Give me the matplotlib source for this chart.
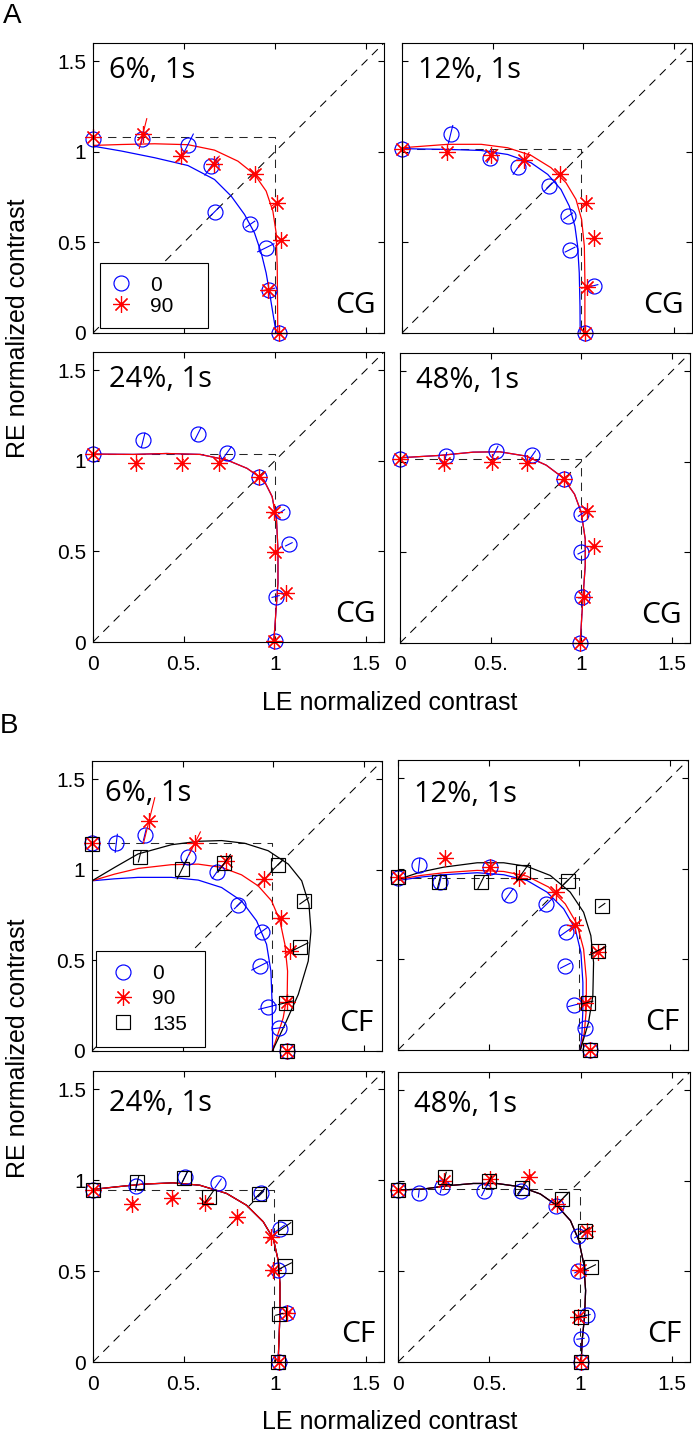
import matplotlib.pyplot as plt
from matplotlib.lines import Line2D
from matplotlib.patches import Rectangle
import numpy as np

W, H = 693, 1434
plt.rcParams["font.family"] = ["Liberation Sans", "DejaVu Sans"]

ticks = [0, 0.5, 1, 1.5]
xticklabels = ["0", "0.5.", "1", "1.5"]
yticklabels = ["0", "0.5", "1", "1.5"]

# ---------------- data: (LE, RE, radial error) per orientation ----------------
# A, 6%
a06_o = [(0, 1.07, 0), (0.27, 1.07, 0.03), (0.52, 1.035, 0.07), (0.65, 0.92, 0.06), (0.67, 0.67, 0.03),
         (0.865, 0.60, 0.03), (0.95, 0.47, 0.05), (0.97, 0.24, 0.03), (1.02, 0.0, 0)]
a06_s = [(0, 1.08, 0), (0.275, 1.10, 0.085), (0.485, 0.976, 0.03), (0.665, 0.935, 0.05), (0.89, 0.88, 0.03),
         (1.01, 0.72, 0.03), (1.035, 0.515, 0.03), (0.96, 0.24, 0.03), (1.02, 0, 0)]
a06_fit_o = [(0, 1.031), (0.156, 1.004), (0.339, 0.967), (0.522, 0.924), (0.668, 0.847), (0.760, 0.755),
             (0.833, 0.654), (0.888, 0.552), (0.925, 0.442), (0.952, 0.331), (0.971, 0.221), (0.989, 0.110),
             (1.007, 0)]
a06_fit_s = [(0, 1.035), (0.156, 1.04), (0.339, 1.044), (0.522, 1.039), (0.668, 1.009), (0.797, 0.948),
             (0.888, 0.875), (0.952, 0.783), (0.989, 0.672), (1.007, 0.552), (1.013, 0.368), (1.016, 0)]
a06_corner = (1.0, 1.08)

# A, 12%
a12_o = [(0, 1.013, 0), (0.268, 1.096, 0.05), (0.483, 0.967, 0.03), (0.642, 0.917, 0.05), (0.813, 0.81, 0.04),
         (0.917, 0.645, 0.03), (0.927, 0.46, 0.03), (1.061, 0.262, 0.02), (1.009, 0, 0)]
a12_s = [(0, 1.013, 0), (0.25, 0.998, 0.02), (0.492, 0.98, 0.03), (0.672, 0.954, 0.05), (0.873, 0.875, 0.03),
         (1.015, 0.718, 0.03), (1.057, 0.525, 0.02), (1.02, 0.254, 0.03), (1.009, 0, 0)]
a12_fit_o = [(0, 1.017), (0.253, 1.013), (0.437, 1.007), (0.583, 0.985), (0.712, 0.939), (0.804, 0.875),
             (0.877, 0.792), (0.923, 0.7), (0.954, 0.589), (0.969, 0.479), (0.978, 0.331), (0.982, 0.147),
             (0.983, 0)]
a12_fit_s = [(0, 1.022), (0.253, 1.041), (0.437, 1.041), (0.583, 1.022), (0.712, 0.98), (0.822, 0.912),
             (0.905, 0.829), (0.96, 0.737), (0.991, 0.626), (1.006, 0.479), (1.009, 0.295), (1.009, 0)]
a12_corner = (0.99, 1.015)

# A, 24%
a24_o = [(0, 1.037, 0), (0.276, 1.114, 0.04), (0.576, 1.147, 0.04), (0.737, 1.044, 0.04), (0.915, 0.912, 0.02),
         (1.037, 0.719, 0.02), (1.077, 0.539, 0.02), (1.004, 0.251, 0.02), (0.998, 0.004, 0)]
a24_s = [(0, 1.04, 0), (0.239, 0.985, 0.02), (0.488, 0.989, 0.02), (0.691, 0.985, 0.02), (0.912, 0.912, 0.02),
         (0.994, 0.719, 0.02), (0.998, 0.499, 0.02), (1.059, 0.27, 0.02), (0.994, 0.004, 0)]
a24_fit = [(0, 1.037), (0.221, 1.035), (0.405, 1.04), (0.589, 1.035), (0.737, 1.004), (0.847, 0.958),
           (0.939, 0.894), (0.985, 0.802), (1.009, 0.673), (1.017, 0.508), (1.017, 0.325), (1.004, 0.141),
           (0.994, 0.004)]
a24_corner = (1.0, 1.04)

# A, 48%
a48_o = [(0, 1.016, 0), (0.253, 1.031, 0.02), (0.527, 1.059, 0.03), (0.73, 1.035, 0.03), (0.903, 0.903, 0.02),
         (1.0, 0.711, 0.02), (1.0, 0.5, 0.02), (1.006, 0.253, 0.02), (0.994, 0, 0)]
a48_s = [(0, 1.016, 0), (0.242, 0.991, 0.02), (0.505, 0.998, 0.02), (0.701, 0.991, 0.02), (0.905, 0.907, 0.02),
         (1.031, 0.729, 0.02), (1.068, 0.533, 0.02), (1.015, 0.253, 0.02), (0.994, 0, 0)]
a48_fit = [(0, 1.022), (0.22, 1.035), (0.404, 1.053), (0.55, 1.055), (0.697, 1.031), (0.807, 0.981),
           (0.899, 0.912), (0.963, 0.821), (1.0, 0.72), (1.022, 0.573), (1.022, 0.427), (1.009, 0.244),
           (0.994, 0)]
a48_corner = (1.0, 1.016)

# B, 6%
b06_o = [(0, 1.146, 0), (0.134, 1.146, 0.05), (0.291, 1.192, 0.03), (0.527, 1.068, 0.05), (0.687, 0.985, 0.04),
         (0.807, 0.806, 0.03), (0.936, 0.659, 0.04), (0.926, 0.469, 0.05), (0.969, 0.242, 0.05),
         (1.031, 0.127, 0.03), (1.074, 0.002, 0)]
b06_s = [(0, 1.146, 0), (0.315, 1.271, 0.13), (0.567, 1.146, 0.07), (0.737, 1.046, 0.04), (0.95, 0.948, 0.03),
         (1.042, 0.736, 0.02), (1.092, 0.552, 0.03), (1.077, 0.271, 0.02), (1.077, 0.002, 0)]
b06_q = [(0, 1.142, 0), (0.263, 1.072, 0.03), (0.497, 1.004, 0.06), (0.729, 1.035, 0.06), (1.024, 1.026, 0.04),
         (1.171, 0.828, 0.03), (1.147, 0.574, 0.05), (1.068, 0.266, 0.04), (1.077, 0.002, 0)]
b06_fit_o = [(0, 0.939), (0.125, 0.95), (0.254, 0.958), (0.438, 0.958), (0.586, 0.943), (0.715, 0.902),
             (0.825, 0.828), (0.908, 0.718), (0.963, 0.589), (0.987, 0.441), (0.994, 0.256), (0.996, 0.109),
             (0.996, 0.002)]
b06_fit_s = [(0, 0.939), (0.125, 0.976), (0.254, 1.007), (0.438, 1.028), (0.586, 1.031), (0.715, 1.013),
             (0.825, 0.972), (0.917, 0.911), (0.991, 0.828), (1.037, 0.718), (1.064, 0.589), (1.079, 0.441),
             (1.077, 0.312), (1.055, 0.183), (0.996, 0.002)]
b06_fit_q = [(0, 0.939), (0.125, 1.013), (0.254, 1.087), (0.438, 1.138), (0.586, 1.157), (0.715, 1.161),
             (0.843, 1.146), (0.972, 1.105), (1.083, 1.031), (1.157, 0.939), (1.197, 0.81), (1.208, 0.662),
             (1.193, 0.496), (1.138, 0.312), (1.064, 0.146), (0.996, 0.002)]
b06_corner = (0.994, 1.146)

# B, 12%
b12_o = [(0, 0.948, 0), (0.116, 1.018, 0.04), (0.231, 0.926, 0.04), (0.505, 1.009, 0.03), (0.611, 0.856, 0.04),
         (0.818, 0.803, 0.05), (0.928, 0.653, 0.04), (0.923, 0.465, 0.03), (0.969, 0.247, 0.03),
         (1.029, 0.124, 0.03), (1.061, 0, 0)]
b12_s = [(0, 0.954, 0), (0.257, 1.059, 0.02), (0.505, 1.009, 0.03), (0.666, 0.948, 0.03), (0.872, 0.871, 0.04),
         (0.978, 0.69, 0.03), (1.101, 0.542, 0.04), (1.033, 0.262, 0.03), (1.061, 0, 0)]
b12_q = [(0, 0.954, 0), (0.226, 0.926, 0.04), (0.459, 0.926, 0.04), (0.69, 0.982, 0.06), (0.936, 0.935, 0.04),
         (1.125, 0.797, 0.02), (1.101, 0.548, 0.05), (1.046, 0.262, 0.03), (1.057, 0, 0)]
b12_fit_o = [(0, 0.935), (0.125, 0.954), (0.253, 0.967), (0.437, 0.978), (0.583, 0.967), (0.712, 0.935),
             (0.822, 0.871), (0.914, 0.779), (0.978, 0.668), (1.009, 0.539), (1.02, 0.373), (1.02, 0.225),
             (1.015, 0.096), (1.006, 0)]
b12_fit_s = [(0, 0.941), (0.125, 0.963), (0.253, 0.978), (0.437, 0.991), (0.583, 0.985), (0.712, 0.959),
             (0.831, 0.899), (0.923, 0.806), (0.987, 0.696), (1.024, 0.557), (1.039, 0.391), (1.039, 0.225),
             (1.028, 0.096), (1.006, 0)]
b12_fit_q = [(0, 0.941), (0.125, 0.982), (0.253, 1.009), (0.437, 1.033), (0.583, 1.033), (0.712, 1.013),
             (0.84, 0.963), (0.95, 0.871), (1.024, 0.76), (1.064, 0.631), (1.079, 0.483), (1.075, 0.299),
             (1.051, 0.151), (1.006, 0)]
b12_corner = (1.0, 0.95)

# B, 24%
b24_o = [(0, 0.945, 0), (0.239, 0.967, 0.03), (0.505, 1.018, 0.03), (0.688, 0.982, 0.03), (0.921, 0.927, 0.03),
         (1.028, 0.734, 0.03), (1.018, 0.505, 0.02), (1.064, 0.27, 0.02), (1.024, 0, 0)]
b24_s = [(0, 0.945, 0), (0.217, 0.868, 0.02), (0.437, 0.899, 0.02), (0.615, 0.872, 0.02), (0.793, 0.798, 0.02),
         (0.976, 0.688, 0.02), (0.991, 0.505, 0.02), (1.068, 0.27, 0.02), (1.024, 0, 0)]
b24_q = [(0, 0.945, 0), (0.244, 0.991, 0.03), (0.501, 1.009, 0.04), (0.639, 0.908, 0.04), (0.914, 0.923, 0.04),
         (1.055, 0.743, 0.04), (1.055, 0.527, 0.04), (1.024, 0.262, 0.02), (1.018, 0, 0)]
b24_fit = [(0, 0.949), (0.128, 0.963), (0.275, 0.978), (0.44, 0.985), (0.587, 0.972), (0.734, 0.927),
           (0.844, 0.862), (0.936, 0.771), (0.991, 0.679), (1.018, 0.56), (1.028, 0.431), (1.028, 0.266),
           (1.018, 0)]
b24_corner = (0.996, 0.945)

# B, 48%
b48_o = [(0, 0.949, 0), (0.114, 0.93, 0.02), (0.239, 0.963, 0.03), (0.472, 0.945, 0.03), (0.675, 0.945, 0.03),
         (0.866, 0.862, 0.03), (0.985, 0.697, 0.02), (0.987, 0.501, 0.02), (1.033, 0.257, 0.02),
         (1.0, 0.128, 0.02), (1.0, 0, 0)]
b48_s = [(0, 0.949, 0), (0.251, 0.996, 0.02), (0.505, 1.009, 0.02), (0.716, 1.018, 0.02), (0.872, 0.872, 0.02),
         (1.033, 0.725, 0.02), (0.996, 0.508, 0.02), (0.985, 0.248, 0.02), (1.004, 0, 0)]
b48_q = [(0, 0.949, 0), (0.257, 1.018, 0.03), (0.501, 1.0, 0.03), (0.679, 0.96, 0.04), (0.899, 0.899, 0.04),
         (1.024, 0.725, 0.03), (1.055, 0.523, 0.03), (1.004, 0.251, 0.03), (1.004, 0, 0)]
b48_fit = [(0, 0.949), (0.138, 0.954), (0.266, 0.972), (0.413, 0.985), (0.541, 0.985), (0.67, 0.967),
           (0.78, 0.927), (0.872, 0.862), (0.945, 0.78), (0.991, 0.67), (1.018, 0.541), (1.028, 0.394),
           (1.022, 0.248), (1.009, 0.12), (1.004, 0)]
b48_corner = (0.996, 0.954)

COLORS = {"0": "b", "90": "r", "135": "k"}
MARKERS = {"0": dict(marker="o", ms=10.8), "90": dict(marker=(8, 2, 0), ms=12), "135": dict(marker="s", ms=9.6)}

fig = plt.figure(figsize=(W / 100, H / 100), dpi=100)


def px_axes(x0, y0, x1, y1):
    return fig.add_axes([x0 / W, 1 - y1 / H, (x1 - x0) / W, (y1 - y0) / H])


def draw_panel(rect, title, tag, pts, fits, corner, xlab, ylab, legend=None, title_pos=(0.09, 1.45)):
    ax = px_axes(*rect)
    ax.set_xlim(0, 1.6)
    ax.set_ylim(0, 1.6)
    dash = (0, (8, 6))
    ax.plot([0, 1.6], [0, 1.6], color="k", ls=dash, lw=0.75)
    cx, cy = corner
    ax.plot([0, cx, cx], [cy, cy, 0], color="0.15", ls=dash, lw=0.75)
    for key, f in fits:
        f = np.array(f)
        ax.plot(f[:, 0], f[:, 1], color=COLORS[key], lw=0.9)
    for key, p in pts:
        p = np.array(p, dtype=float)
        x, y, e = p[:, 0], p[:, 1], p[:, 2]
        r = np.hypot(x, y)
        ux, uy = x / r, y / r
        c = COLORS[key]
        for xi, yi, ei, ui, vi in zip(x, y, e, ux, uy):
            if ei > 0:
                ax.plot([xi - ei * ui, xi + ei * ui], [yi - ei * vi, yi + ei * vi], color=c, lw=0.8, clip_on=False)
        ax.plot(x, y, ls="none", mfc="none", mec=c, mew=0.85, clip_on=False, **MARKERS[key])
    ax.text(title_pos[0], title_pos[1], title, family="Open Sans", fontsize=21, ha="left", va="center")
    ax.text(1.555, 0.15, tag, family="Open Sans", fontsize=21.5, ha="right", va="center")
    ax.set_xticks(ticks)
    ax.set_yticks(ticks)
    ax.set_xticklabels(xticklabels if xlab else [])
    ax.set_yticklabels(yticklabels if ylab else [])
    ax.tick_params(direction="in", top=True, right=True, length=4, width=0.8, labelsize=15)
    ax.tick_params(axis="x", pad=9)
    ax.tick_params(axis="y", pad=5)
    for s in ax.spines.values():
        s.set_linewidth(0.8)
    if legend:
        keys, box, anchor, spacing = legend
        ax.add_patch(Rectangle(box[:2], box[2], box[3], transform=ax.transAxes, fill=True, fc="w",
                               ec="k", lw=0.8, zorder=5))
        handles = [Line2D([], [], ls="none", mfc="none", mec=COLORS[k], mew=0.85, **MARKERS[k]) for k in keys]
        lg = ax.legend(handles, keys, loc="center left", bbox_to_anchor=anchor, frameon=False, fontsize=15,
                       handlelength=1.4, handletextpad=0.7, borderpad=0, borderaxespad=0, labelspacing=spacing)
        lg.set_zorder(6)
    return ax


# panel A
draw_panel((93, 43, 384, 333), "6%, 1s", "CG", [("0", a06_o), ("90", a06_s)],
           [("0", a06_fit_o), ("90", a06_fit_s)], a06_corner, False, True,
           legend=(["0", "90"], (0.024, 0.017, 0.371, 0.224), (0.046, 0.129), 0.1))
draw_panel((402, 43, 692, 333), "12%, 1s", "CG", [("0", a12_o), ("90", a12_s)],
           [("0", a12_fit_o), ("90", a12_fit_s)], a12_corner, False, False)
draw_panel((93, 352, 384, 642), "24%, 1s", "CG", [("0", a24_o), ("90", a24_s)],
           [("0", a24_fit), ("90", a24_fit)], a24_corner, True, True)
draw_panel((400, 353, 690, 643), "48%, 1s", "CG", [("0", a48_o), ("90", a48_s)],
           [("0", a48_fit), ("90", a48_fit)], a48_corner, True, False)

# panel B
draw_panel((92, 761, 382, 1051), "6%, 1s", "CF", [("0", b06_o), ("90", b06_s), ("135", b06_q)],
           [("0", b06_fit_o), ("90", b06_fit_s), ("135", b06_fit_q)], b06_corner, False, True,
           legend=(["0", "90", "135"], (0.014, 0.014, 0.376, 0.331), (0.057, 0.18), 0.3),
           title_pos=(0.07, 1.42))
draw_panel((398, 760, 688, 1050), "12%, 1s", "CF", [("0", b12_o), ("90", b12_s), ("135", b12_q)],
           [("0", b12_fit_o), ("90", b12_fit_s), ("135", b12_fit_q)], b12_corner, False, False,
           title_pos=(0.09, 1.41))
draw_panel((93, 1071, 384, 1362), "24%, 1s", "CF", [("0", b24_o), ("90", b24_s), ("135", b24_q)],
           [("0", b24_fit), ("135", b24_fit), ("90", b24_fit)], b24_corner, True, True,
           title_pos=(0.09, 1.42))
draw_panel((398, 1072, 690, 1362), "48%, 1s", "CF", [("0", b48_o), ("90", b48_s), ("135", b48_q)],
           [("0", b48_fit), ("90", b48_fit), ("135", b48_fit)], b48_corner, True, False,
           title_pos=(0.09, 1.42))

fig.text(12 / W, 1 - 16 / H, "A", fontsize=20, ha="center", va="center")
fig.text(9 / W, 1 - 726 / H, "B", fontsize=20, ha="center", va="center")
fig.text(390 / W, 1 - 703 / H, "LE normalized contrast", fontsize=18, ha="center", va="center")
fig.text(390 / W, 1 - 1422 / H, "LE normalized contrast", fontsize=18, ha="center", va="center")
fig.text(18 / W, 1 - 328 / H, "RE normalized contrast", fontsize=18, ha="center", va="center", rotation=90)
fig.text(18 / W, 1 - 1048 / H, "RE normalized contrast", fontsize=18, ha="center", va="center", rotation=90)

fig.savefig("out.png", dpi=100)
